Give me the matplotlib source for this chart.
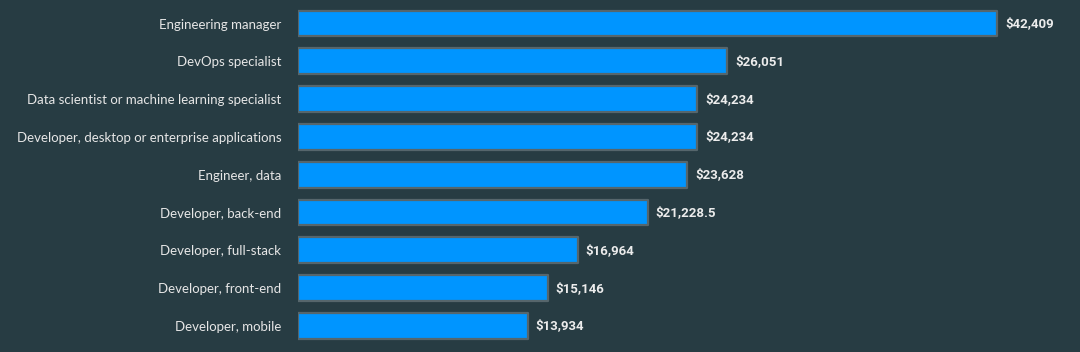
import matplotlib.pyplot as plt

# Data
roles = [
    "Engineering manager",
    "DevOps specialist",
    "Data scientist or machine learning specialist",
    "Developer, desktop or enterprise applications",
    "Engineer, data",
    "Developer, back-end",
    "Developer, full-stack",
    "Developer, front-end",
    "Developer, mobile",
]
salaries = [42409, 26051, 24234, 24234, 23628, 21228.5, 16964, 15146, 13934]
value_labels = ["$42,409", "$26,051", "$24,234", "$24,234", "$23,628",
                "$21,228.5", "$16,964", "$15,146", "$13,934"]

bg = "#273c43"

fig = plt.figure(figsize=(10.8, 3.52), dpi=100, facecolor=bg)
ax = fig.add_axes([298 / 1080, 0, 782 / 1080, 1])
ax.set_facecolor(bg)

y = list(range(len(roles)))
ax.barh(y, salaries, height=0.68, color="#0095ff", edgecolor="#56666c",
        linewidth=1.6, joinstyle="round")

ax.set_xlim(0, 47450)
ax.set_ylim(8.69, -0.622)

for i, (v, lab) in enumerate(zip(salaries, value_labels)):
    ax.annotate(lab, (v, i), xytext=(8, 0), textcoords="offset pixels",
                ha="left", va="center", color="#ececec", fontsize=9.5,
                fontweight="bold", family="Roboto")

ax.set_yticks(y)
ax.set_yticklabels(roles, fontsize=9.5, color="#e6e6e6", family="Lato")
ax.tick_params(axis="y", length=0, pad=12)
ax.set_xticks([])
for s in ax.spines.values():
    s.set_visible(False)

fig.savefig("out.png", dpi=100, facecolor=bg)
